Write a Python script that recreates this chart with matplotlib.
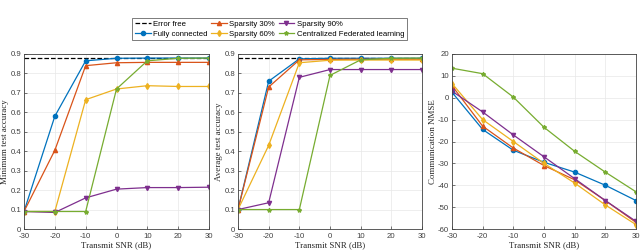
import numpy as np
import matplotlib
matplotlib.use("Agg")
import matplotlib.pyplot as plt

plt.rcParams["axes.unicode_minus"] = False

snr = [-30, -20, -10, 0, 10, 20, 30]
error_free = 0.88

min_fc = [0.09, 0.58, 0.865, 0.878, 0.879, 0.879, 0.879]
min_s30 = [0.09, 0.405, 0.84, 0.855, 0.857, 0.857, 0.857]
min_s60 = [0.09, 0.09, 0.665, 0.72, 0.737, 0.733, 0.733]
min_s90 = [0.09, 0.085, 0.16, 0.205, 0.213, 0.213, 0.215]
min_cfl = [0.09, 0.09, 0.09, 0.72, 0.865, 0.878, 0.879]

avg_fc = [0.10, 0.76, 0.875, 0.878, 0.878, 0.878, 0.878]
avg_s30 = [0.10, 0.73, 0.87, 0.872, 0.873, 0.873, 0.873]
avg_s60 = [0.10, 0.43, 0.855, 0.868, 0.869, 0.869, 0.869]
avg_s90 = [0.10, 0.135, 0.78, 0.82, 0.82, 0.82, 0.82]
avg_cfl = [0.10, 0.10, 0.10, 0.79, 0.87, 0.878, 0.879]

nmse_fc = [2.5, -14.5, -24, -29.5, -34, -40, -47]
nmse_s30 = [5.5, -13, -23, -31, -37.5, -47, -57]
nmse_s60 = [6.5, -10, -20, -30, -39, -49, -58]
nmse_s90 = [3, -6.5, -17, -27, -37, -47, -56.5]
nmse_cfl = [13.5, 11, 0.3, -13.5, -24.5, -34, -43]

labels = ["Fully connected", "Sparsity 30%", "Sparsity 60%", "Sparsity 90%",
          "Centralized Federated learning"]
colors = ["#0072BD", "#D95319", "#EDB120", "#7E2F8E", "#77AC30"]
markers = ["o", "^", "d", "v", "*"]

fig = plt.figure(figsize=(6.4, 2.52), dpi=100)
W, H = 640, 252

def add_ax(x0, x1, ytop, ybot):
    return fig.add_axes([x0 / W, 1 - ybot / H, (x1 - x0) / W, (ybot - ytop) / H])

ax1 = add_ax(24, 209, 54, 229)
ax2 = add_ax(238, 422, 54, 229)
ax3 = add_ax(452, 636, 54, 229)

serif = "Liberation Serif"
sans = "Liberation Sans"

panels = [
    (ax1, [min_fc, min_s30, min_s60, min_s90, min_cfl], "Minimum test accuracy", (0, 0.9)),
    (ax2, [avg_fc, avg_s30, avg_s60, avg_s90, avg_cfl], "Average test accuracy", (0, 0.9)),
    (ax3, [nmse_fc, nmse_s30, nmse_s60, nmse_s90, nmse_cfl], "Communication NMSE", (-60, 20)),
]

handles = []
for ax, series, ylab, ylim in panels:
    ax.set_axisbelow(True)
    if ax is not ax3:
        h0, = ax.plot(snr, [error_free] * len(snr), "k--", lw=0.9, label="Error free")
    hs = []
    for y, c, m, lab in zip(series, colors, markers, labels):
        h, = ax.plot(snr, y, color=c, marker=m, ms=3, lw=0.9, label=lab)
        hs.append(h)
    if ax is ax1:
        handles = [h0] + hs
    ax.set_xlim(-30, 30)
    ax.set_ylim(*ylim)
    ax.set_xticks(snr)
    if ax is ax3:
        ax.set_yticks(np.arange(-60, 21, 10))
    else:
        ax.set_yticks(np.arange(0, 0.91, 0.1))
        ax.set_yticklabels(["0"] + ["%.1f" % v for v in np.arange(0.1, 0.91, 0.1)])
    ax.grid(True, color="#e8e8e8", lw=0.5)
    ax.tick_params(labelsize=5.6, direction="in", length=2, width=0.5,
                   colors="#404040", pad=2)
    ax.tick_params(axis="x", pad=3)
    for lbl in ax.get_xticklabels() + ax.get_yticklabels():
        lbl.set_fontfamily(sans)
    for s in ax.spines.values():
        s.set_color("#404040")
        s.set_linewidth(0.6)
    ax.set_xlabel("Transmit SNR (dB)", fontsize=6.4, family=serif, labelpad=1,
                  color="#262626")
    ax.set_ylabel(ylab, fontsize=6.4, family=serif, labelpad=1, color="#262626")

leg = fig.legend(
    handles, [h.get_label() for h in handles],
    loc="center", bbox_to_anchor=(269.5 / W, 1 - 29 / H), ncol=3,
    prop={"family": sans, "size": 5.6}, frameon=True, fancybox=False,
    edgecolor="#404040", handlelength=2.0, handletextpad=0.3, columnspacing=0.5,
    borderpad=0.35, labelspacing=0.3,
)
leg.get_frame().set_linewidth(0.6)

fig.savefig("out.png", dpi=100)
